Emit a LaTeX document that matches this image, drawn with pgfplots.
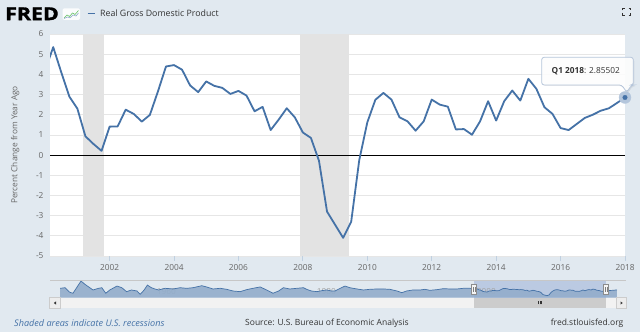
\documentclass[border=0pt]{standalone}
\usepackage{pgfplots}
\pgfplotsset{compat=1.18}
\usepackage{pgfplotstable}
\usepackage{fontspec}
\setmainfont{Open Sans}
\newfontfamily\logofont{Open Sans}[BoldFeatures={FakeBold=1.5}]
\definecolor{bg}{HTML}{E1E9F0}
\definecolor{gdp}{HTML}{4572A7}
\definecolor{gridc}{HTML}{E6E6E6}
\definecolor{recc}{HTML}{E3E3E3}
\definecolor{axc}{HTML}{C0D0E0}
\definecolor{tickc}{HTML}{666666}
\definecolor{txt}{HTML}{333333}
\definecolor{navfill}{HTML}{93ADCB}
\definecolor{selc}{HTML}{6685C2}
\definecolor{tipb}{HTML}{B5C5DA}
\definecolor{halo}{HTML}{B4C6DC}
\newcommand{\fs}[1]{\fontsize{#1}{#1}\selectfont}

\pgfplotstableread{
t v
2000.00 4.20
2000.25 5.35
2000.50 4.10
2000.75 2.90
2001.00 2.30
2001.25 0.93
2001.50 0.55
2001.75 0.21
2002.00 1.41
2002.25 1.42
2002.50 2.25
2002.75 2.04
2003.00 1.66
2003.25 1.99
2003.50 3.15
2003.75 4.39
2004.00 4.46
2004.25 4.23
2004.50 3.45
2004.75 3.12
2005.00 3.65
2005.25 3.43
2005.50 3.33
2005.75 3.03
2006.00 3.18
2006.25 2.95
2006.50 2.17
2006.75 2.39
2007.00 1.24
2007.25 1.76
2007.50 2.32
2007.75 1.87
2008.00 1.12
2008.25 0.85
2008.50 -0.28
2008.75 -2.80
2009.00 -3.45
2009.25 -4.10
2009.50 -3.30
2009.75 -0.25
2010.00 1.62
2010.25 2.74
2010.50 3.08
2010.75 2.75
2011.00 1.87
2011.25 1.67
2011.50 1.21
2011.75 1.67
2012.00 2.75
2012.25 2.50
2012.50 2.40
2012.75 1.27
2013.00 1.29
2013.25 1.01
2013.50 1.67
2013.75 2.67
2014.00 1.71
2014.25 2.67
2014.50 3.20
2014.75 2.70
2015.00 3.78
2015.25 3.28
2015.50 2.37
2015.75 2.04
2016.00 1.34
2016.25 1.24
2016.50 1.54
2016.75 1.84
2017.00 2.00
2017.25 2.20
2017.50 2.32
2017.75 2.58
2018.00 2.85502
}\gdptab

\pgfplotstableread{
t v
1948.4 4.7
1949.0 5.4
1949.6 -0.05
1950.0 -1.2
1951.0 13.4
1951.5 9.4
1952.1 5.4
1952.5 2.7
1953.2 4.7
1953.6 5.4
1954.1 -1.2
1954.6 2.7
1955.5 7.4
1956.1 5.4
1956.7 0.7
1957.3 2.7
1958.0 1.5
1958.4 -2.4
1958.9 2.7
1959.3 8.6
1959.8 5.4
1960.25 3.9
1960.7 2.7
1961.5 4.7
1962.5 3.9
1963.4 5.4
1964.2 4.7
1965.0 5.4
1966.1 7.8
1966.7 6.3
1967.5 3.9
1968.4 4.7
1969.2 3.5
1970.0 1.5
1970.9 0.7
1971.7 3.1
1972.5 4.7
1973.4 6.3
1974.2 2.7
1975.0 -1.2
1975.7 1.5
1976.3 5.4
1977.1 3.9
1978.0 4.7
1978.8 5.4
1979.2 3.5
1979.8 1.5
1980.5 0.7
1981.1 1.9
1981.7 2.7
1982.3 1.5
1982.75 1.5
1983.0 2.7
1983.4 4.7
1984.0 7.4
1984.6 5.4
1985.5 3.9
1986.3 2.7
1987.1 3.5
1988.0 3.9
1988.8 3.9
1989.6 3.5
1990.5 1.5
1991.1 -0.5
1991.7 1.5
1992.5 2.7
1993.4 2.7
1994.0 3.5
1994.6 2.3
1995.5 3.1
1996.3 4.3
1997.1 3.9
1998.0 3.9
1998.8 4.7
1999.6 4.7
2000.0 4.2
}\navhist

\begin{document}
\begin{tikzpicture}[x=1pt,y=1pt]
\fill[bg] (0,0) rectangle (640,332);

% ---------- header ----------
\node[anchor=west, inner sep=0] at (5,318.2) {\logofont\bfseries\fs{17.8}\scalebox{1.2}[1]{FRED}};
\fill[white!88!bg, rounded corners=1.5pt] (62.5,312) rectangle (80,323.7);
\draw[green!60!black!60, line width=0.6pt] (64,314) -- (67,317) -- (69.5,315.5) -- (72.5,319) -- (75,317.5) -- (78.5,321.5);
\draw[gdp!60, line width=0.6pt] (64,313.5) -- (67.5,315) -- (70,314.2) -- (73,317) -- (76,316) -- (78.5,319);
\draw[gdp, line width=1.6pt] (87.5,318.3) -- (94.5,318.3);
\node[anchor=west, inner sep=0, font=\fs{8.8}, text=txt] at (100,318.3) {Real Gross Domestic Product};
% fullscreen icon
\begin{scope}[line width=0.9pt, txt]
\draw (622.5,321.5) -- (622.5,323.7) -- (624.7,323.7);
\draw (628.5,323.7) -- (630.7,323.7) -- (630.7,321.5);
\draw (622.5,319.2) -- (622.5,317) -- (624.7,317);
\draw (628.5,317) -- (630.7,317) -- (630.7,319.2);
\end{scope}

% ---------- main axis ----------
\begin{axis}[
  at={(50pt,76pt)}, anchor=south west, scale only axis,
  width=575pt, height=222pt,
  xmin=2000.15, xmax=2018, ymin=-5, ymax=6,
  axis background/.style={fill=white},
  axis line style={draw=none},
  xtick={2002,2004,...,2018},
  ytick={-5,-4,...,6},
  xtick pos=left, ytick pos=left,
  ymajorgrids, grid style={gridc, line width=0.8pt},
  tick align=outside,
  major tick length=5pt,
  xtick style={axc, line width=0.8pt},
  ytick style={draw=none},
  xticklabel style={font=\fs{8.3}, text=tickc},
  yticklabel style={font=\fs{8.3}, text=tickc, xshift=2pt},
  /pgf/number format/1000 sep={},
  /pgf/number format/assume math mode=true,
  ylabel={Percent Change from Year Ago},
  every axis y label/.style={at={(axis description cs:-0.0605,0.5)}, rotate=90, anchor=center, font=\fs{8.3}, text=tickc},
]
\addplot[draw=none, fill=recc] coordinates {(2001.167,-5) (2001.167,6) (2001.833,6) (2001.833,-5)};
\addplot[draw=none, fill=recc] coordinates {(2007.917,-5) (2007.917,6) (2009.417,6) (2009.417,-5)};
\addplot[black, line width=0.9pt] coordinates {(2000,0) (2018,0)};
\addplot[gdp, line width=1.8pt, line join=round] table[x=t,y=v] {\gdptab};
\draw[axc, line width=0.9pt] (rel axis cs:0,0) -- (rel axis cs:1,0);
\addplot[halo, only marks, mark=*, mark size=6pt, mark options={line width=0.3pt, draw=halo, fill=halo}] coordinates {(2018,2.85502)};
\addplot[gdp, only marks, mark=*, mark size=2.3pt, mark options={line width=0.3pt, draw=gdp, fill=gdp}] coordinates {(2018,2.85502)};
\end{axis}

% ---------- tooltip ----------
\fill[black, opacity=0.07, rounded corners=3pt] (542.7,273.7) -- (634.3,273.7) -- (634.3,246) -- (632.7,246) -- (627.7,238.3) -- (622.7,246) -- (542.7,246) -- cycle;
\filldraw[fill=white, fill opacity=0.9, draw=tipb, line width=0.8pt, rounded corners=2.5pt]
  (541.7,274.7) -- (633.3,274.7) -- (633.3,247) -- (631.7,247) -- (626.7,239.8) -- (621.7,247) -- (541.7,247) -- cycle;
\node[anchor=west, inner sep=0, font=\fs{8.3}, text=txt] at (551.5,260.6) {\textbf{Q1 2018}: 2.85502};

% ---------- navigator ----------
\fill[selc, opacity=0.3] (474,34.3) rectangle (606,52);
\begin{axis}[
  at={(57pt,34.3pt)}, anchor=south west, scale only axis,
  width=560pt, height=17.7pt,
  xmin=1948, xmax=2018, ymin=0, ymax=21.1,
  hide axis, clip=false,
]
\node[anchor=west, inner sep=0, font=\fs{8.3}, text=tickc!60] at (axis cs:1960.45,7.2) {1960};
\node[anchor=west, inner sep=0, font=\fs{8.3}, text=tickc!60] at (axis cs:1980.45,7.2) {1980};
\node[anchor=west, inner sep=0, font=\fs{8.3}, text=tickc!60] at (axis cs:2000.45,7.2) {2000};
\addplot[draw=none, fill=navfill, fill opacity=0.9] table[x=t, y expr=\thisrow{v}+6.5] {\navhist} \closedcycle;
\addplot[draw=none, fill=navfill, fill opacity=0.9] table[x=t, y expr=\thisrow{v}+6.5] {\gdptab} \closedcycle;
\addplot[gdp, line width=0.7pt] table[x=t, y expr=\thisrow{v}+6.5] {\navhist};
\addplot[gdp, line width=0.7pt] table[x=t, y expr=\thisrow{v}+6.5] {\gdptab};
\end{axis}
\draw[black!22, line width=0.7pt] (50,51.8) -- (626,51.8);
% scrollbar
\fill[black!5] (60,23.7) rectangle (616,34.3);
\filldraw[fill=black!7, draw=black!20, line width=0.5pt] (49.5,23.7) rectangle (60,34.3);
\filldraw[fill=black!7, draw=black!20, line width=0.5pt] (616,23.7) rectangle (626.5,34.3);
\fill[txt] (53.8,29) -- (56,30.6) -- (56,27.4) -- cycle;
\fill[txt] (622.7,29) -- (620.5,30.6) -- (620.5,27.4) -- cycle;
\fill[black!20] (474,23.7) rectangle (606,34.3);
\draw[txt, line width=0.4pt] (538,27.5) -- (538,30.7) (539.7,27.5) -- (539.7,30.7) (541.4,27.5) -- (541.4,30.7);
% handles
\filldraw[fill=black!4, draw=black!45, line width=0.5pt] (471.5,37.7) rectangle (476.5,47.7);
\draw[black!50, line width=0.4pt] (473.3,40) -- (473.3,45.4) (474.7,40) -- (474.7,45.4);
\filldraw[fill=black!4, draw=black!45, line width=0.5pt] (603.5,37.7) rectangle (608.5,47.7);
\draw[black!50, line width=0.4pt] (605.3,40) -- (605.3,45.4) (606.7,40) -- (606.7,45.4);

% ---------- footer ----------
\node[anchor=west, inner sep=0, font=\fs{9.1}\itshape, text=gdp] at (14,9) {Shaded areas indicate U.S. recessions};
\node[anchor=west, inner sep=0, font=\fs{8.5}, text=txt] at (245,9) {Source: U.S. Bureau of Economic Analysis};
\node[anchor=east, inner sep=0, font=\fs{8.5}, text=txt] at (623.5,9) {fred.stlouisfed.org};

\pgfresetboundingbox
\useasboundingbox (0,0) rectangle (640,332);
\end{tikzpicture}
\end{document}
